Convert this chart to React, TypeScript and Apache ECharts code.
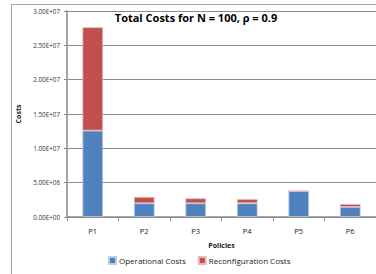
import React, { useEffect, useRef } from "react";
import * as echarts from "echarts";

const categories = ["P1", "P2", "P3", "P4", "P5", "P6"];
const operationalCosts = [1.257e7, 2.0e6, 2.0e6, 2.0e6, 3.79e6, 1.46e6];
const reconfigurationCosts = [1.506e7, 0.91e6, 0.72e6, 0.62e6, 0, 0.43e6];
const yTicks = { min: 0, max: 3e7, interval: 5e6 };

const fmt = (v: number) => {
  const s = v.toExponential(2).toUpperCase();
  return s.replace(/E([+-])(\d)$/, "E$10$2");
};

const FONT = "Open Sans";

export default function App() {
  const ref = useRef<HTMLDivElement>(null);
  useEffect(() => {
    const chart = echarts.init(ref.current!, null, { renderer: "svg" });
    chart.setOption({
      animation: false,
      backgroundColor: "#fff",
      textStyle: { fontFamily: FONT },
      graphic: [
        {
          type: "rect",
          shape: { x: 11.5, y: 4.5, width: 400, height: 300 },
          style: { fill: "none", stroke: "#a6a6a6", lineWidth: 1 },
          silent: true,
          z: -1,
        },
        {
          type: "text",
          x: 196,
          y: 17,
          style: {
            text: "Total Costs for N = 100, ρ = 0.9",
            font: `bold 11px "${FONT}"`,
            fill: "#000",
            align: "center",
            verticalAlign: "middle",
          },
          z: 10,
        },
      ],
      legend: {
        bottom: 4,
        left: 103,
        itemWidth: 7,
        itemHeight: 7,
        itemGap: 12,
        icon: "rect",
        textStyle: { fontSize: 8, color: "#222", fontFamily: FONT, padding: [0, 0, 0, -2] },
        data: ["Operational Costs", "Reconfiguration Costs"],
      },
      grid: { left: 67, top: 11, width: 311, height: 206 },
      xAxis: {
        type: "category",
        data: categories,
        name: "Policies",
        nameLocation: "middle",
        nameGap: 25,
        nameTextStyle: { fontSize: 7, fontWeight: "bold", color: "#222", fontFamily: FONT },
        axisLine: { lineStyle: { color: "#8c8c8c", width: 1.5 } },
        axisTick: { show: true, length: 4, lineStyle: { color: "#8c8c8c" } },
        axisLabel: { fontSize: 7.5, color: "#222", margin: 10, fontFamily: FONT },
      },
      yAxis: {
        type: "value",
        min: yTicks.min,
        max: yTicks.max,
        interval: yTicks.interval,
        name: "Costs",
        nameLocation: "middle",
        nameGap: 41,
        nameRotate: 90,
        nameTextStyle: { fontSize: 7, fontWeight: "bold", color: "#222", fontFamily: FONT },
        axisLine: { show: true, lineStyle: { color: "#a6a6a6", width: 2 } },
        axisTick: { show: true, length: 3, lineStyle: { color: "#8c8c8c" } },
        axisLabel: { fontSize: 6.3, color: "#333", margin: 7, formatter: fmt, fontFamily: FONT },
        splitLine: { lineStyle: { color: "#8c8c8c", width: 1.2 } },
      },
      series: [
        {
          name: "Operational Costs",
          type: "bar",
          stack: "total",
          barWidth: "40%",
          data: operationalCosts,
          itemStyle: { color: "#4f81bd", borderColor: "#b9cde5", borderWidth: 0.8 },
        },
        {
          name: "Reconfiguration Costs",
          type: "bar",
          stack: "total",
          barWidth: "40%",
          data: reconfigurationCosts,
          itemStyle: { color: "#c0504d", borderColor: "#e6b9b8", borderWidth: 0.8 },
        },
      ],
    });
    return () => chart.dispose();
  }, []);
  return (
    <div
      ref={ref}
      style={{ position: "fixed", left: 0, top: 0, width: 376, height: 274 }}
    />
  );
}
